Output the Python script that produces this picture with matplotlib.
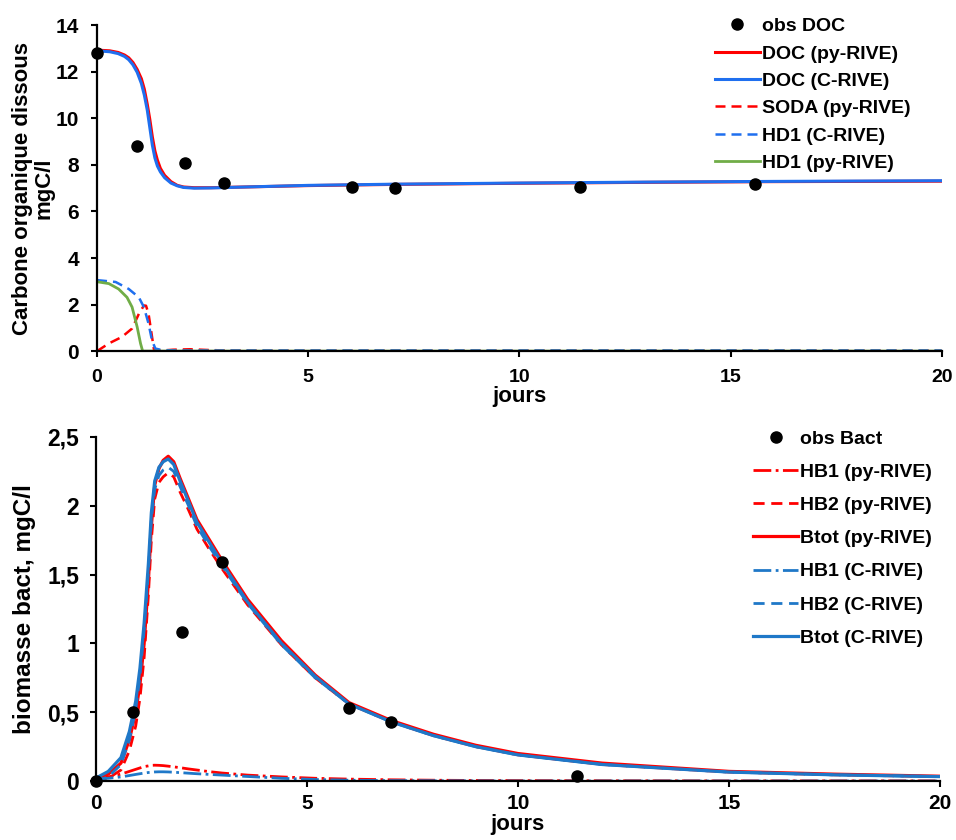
import numpy as np
import matplotlib.pyplot as plt

plt.rcParams['font.family'] = ['Liberation Sans', 'DejaVu Sans']
plt.rcParams['font.weight'] = 'bold'

# --- top panel: dissolved organic carbon ---
obs_doc_t = [0, 0.94, 2.08, 3.0, 6.04, 7.05, 11.43, 15.57]
obs_doc = [12.8, 8.79, 8.09, 7.23, 7.07, 6.99, 7.07, 7.2]

doc_t = [0, 0.3, 0.5, 0.65, 0.75, 0.85, 0.95, 1.05, 1.12, 1.19, 1.25, 1.31, 1.37, 1.43,
         1.5, 1.6, 1.75, 1.9, 2.05, 2.3, 2.7, 3.5, 5, 7, 10, 13, 16, 20]
doc_py = [12.93, 12.9, 12.83, 12.72, 12.6, 12.4, 12.1, 11.7, 11.25, 10.6, 9.95, 9.2, 8.6, 8.2,
          7.85, 7.55, 7.28, 7.12, 7.05, 7.02, 7.02, 7.05, 7.11, 7.16, 7.21, 7.25, 7.28, 7.3]
doc_c = [12.9, 12.86, 12.78, 12.66, 12.52, 12.3, 11.98, 11.5, 11.0, 10.35, 9.6, 8.85, 8.3, 7.95,
         7.7, 7.45, 7.22, 7.1, 7.03, 7.0, 7.01, 7.05, 7.12, 7.17, 7.22, 7.26, 7.29, 7.32]

soda_t = [0, 0.28, 0.59, 0.83, 0.99, 1.11, 1.16, 1.22, 1.30, 1.35, 1.5, 1.8, 2.2, 2.6, 3, 4, 20]
soda_py = [0, 0.33, 0.61, 0.97, 1.6, 1.96, 1.95, 1.6, 0.64, 0.04, 0.02, 0.06, 0.08, 0.05, 0.03, 0.02, 0.02]

hd1c_t = [0, 0.44, 0.75, 0.99, 1.11, 1.22, 1.30, 1.38, 1.5, 1.62, 2, 3, 20]
hd1_c = [3.05, 2.97, 2.67, 2.31, 1.89, 1.18, 0.47, 0.11, 0.06, 0.04, 0.03, 0.03, 0.03]

hd1py_t = [0, 0.28, 0.51, 0.71, 0.83, 0.95, 1.03, 1.08, 20]
hd1_py = [2.98, 2.9, 2.67, 2.31, 1.89, 1.04, 0.33, 0.0, 0.0]

# --- bottom panel: bacterial biomass ---
obs_b_t = [0, 0.88, 2.05, 3.0, 5.99, 7.0, 11.41]
obs_b = [0.0, 0.5, 1.08, 1.59, 0.53, 0.43, 0.04]

b_t = [0, 0.3, 0.6, 0.8, 0.95, 1.05, 1.15, 1.25, 1.32, 1.4, 1.5, 1.6, 1.72, 1.85, 2.0,
       2.2, 2.4, 2.7, 3.0, 3.6, 4.4, 5.2, 6, 7, 8, 9, 10, 12, 15, 17.5, 20]
btot_py = [0.02, 0.05, 0.13, 0.3, 0.5, 0.7, 1.0, 1.45, 1.85, 2.15, 2.27, 2.33, 2.36, 2.32, 2.2,
           2.05, 1.9, 1.75, 1.6, 1.32, 1.02, 0.77, 0.57, 0.44, 0.34, 0.26, 0.2, 0.13, 0.07, 0.05, 0.035]
btot_c = [0.02, 0.07, 0.17, 0.36, 0.58, 0.82, 1.15, 1.58, 1.95, 2.18, 2.28, 2.32, 2.34, 2.3, 2.18,
          2.03, 1.88, 1.73, 1.58, 1.3, 1.0, 0.76, 0.56, 0.43, 0.33, 0.25, 0.19, 0.12, 0.065, 0.045, 0.032]
hb2_py = [0.0, 0.02, 0.08, 0.22, 0.4, 0.6, 0.9, 1.35, 1.75, 2.05, 2.17, 2.21, 2.24, 2.21, 2.1,
          1.97, 1.83, 1.68, 1.54, 1.28, 0.99, 0.75, 0.56, 0.43, 0.33, 0.25, 0.19, 0.12, 0.065, 0.045, 0.032]
hb2_c = [0.0, 0.03, 0.12, 0.3, 0.52, 0.76, 1.1, 1.52, 1.9, 2.12, 2.22, 2.26, 2.28, 2.25, 2.14,
         2.0, 1.85, 1.7, 1.56, 1.29, 0.99, 0.75, 0.56, 0.43, 0.33, 0.25, 0.19, 0.12, 0.065, 0.045, 0.032]
hb1_py = [0.02, 0.03, 0.05, 0.07, 0.085, 0.095, 0.105, 0.11, 0.114, 0.115, 0.114, 0.112, 0.108, 0.103, 0.097,
          0.088, 0.08, 0.068, 0.058, 0.043, 0.03, 0.02, 0.014, 0.009, 0.006, 0.004, 0.003, 0.002, 0.001, 0.001, 0.001]
hb1_c = [0.015, 0.02, 0.03, 0.04, 0.048, 0.053, 0.058, 0.062, 0.064, 0.066, 0.067, 0.067, 0.066, 0.064, 0.061,
         0.057, 0.053, 0.048, 0.043, 0.033, 0.02, 0.011, 0.006, 0.003, 0.002, 0.001, 0, 0, 0, 0, 0]

b_ticks = [0, 0.5, 1, 1.5, 2, 2.5]
b_ticklabels = ['0', '0,5', '1', '1,5', '2', '2,5']

red = '#ff0000'
blue_top = '#1f6fef'
blue_bot = '#1f78c8'
green = '#70ad47'
dash = (4, 2.4)

fig = plt.figure(figsize=(9.56, 8.40), dpi=100)
ax1 = fig.add_axes([0.1015, 0.582, 0.8835, 0.388])
ax2 = fig.add_axes([0.1, 0.0702, 0.8835, 0.4096])


def style(ax, xsize, ysize, xpad, ypad):
    for s in ['top', 'right']:
        ax.spines[s].set_visible(False)
    for s in ['left', 'bottom']:
        ax.spines[s].set_linewidth(1.6)
    ax.tick_params(width=1.5, length=4)
    ax.tick_params(axis='x', labelsize=xsize, pad=xpad)
    ax.tick_params(axis='y', labelsize=ysize, pad=ypad)
    for lab in ax.get_xticklabels() + ax.get_yticklabels():
        lab.set_fontweight('bold')


# top
ax1.plot(obs_doc_t, obs_doc, 'o', color='black', ms=8, label='obs DOC', clip_on=False, zorder=5)
ax1.plot(doc_t, doc_py, '-', color=red, lw=2.2, label='DOC (py-RIVE)')
ax1.plot(doc_t, doc_c, '-', color=blue_top, lw=2.2, label='DOC (C-RIVE)')
ax1.plot(soda_t, soda_py, '--', color=red, lw=1.8, dashes=dash, label='SODA (py-RIVE)')
ax1.plot(hd1c_t, hd1_c, '--', color=blue_top, lw=1.8, dashes=dash, label='HD1 (C-RIVE)')
ax1.plot(hd1py_t, hd1_py, '-', color=green, lw=2, label='HD1 (py-RIVE)')
ax1.set_xlim(0, 20)
ax1.set_ylim(0, 14)
ax1.set_xticks([0, 5, 10, 15, 20])
ax1.set_yticks(range(0, 15, 2))
style(ax1, 14, 15, 9, 9)
ax1.set_xlabel('jours', fontsize=16, fontweight='bold', labelpad=0)
ax1.set_ylabel('Carbone organique dissous\nmgC/l', fontsize=16, fontweight='bold',
               linespacing=1.0, labelpad=1)
ax1.legend(loc='upper left', bbox_to_anchor=(0.748, 0.979), bbox_transform=fig.transFigure,
           frameon=False, fontsize=14, handlelength=2.3, handletextpad=0.1,
           labelspacing=0.5, borderpad=0, borderaxespad=0)

# bottom
ax2.plot(obs_b_t, obs_b, 'o', color='black', ms=8, label='obs Bact', clip_on=False, zorder=5)
ax2.plot(b_t, hb1_py, '-.', color=red, lw=2, label='HB1 (py-RIVE)')
ax2.plot(b_t, hb2_py, '--', color=red, lw=2, dashes=dash, label='HB2 (py-RIVE)')
ax2.plot(b_t, btot_py, '-', color=red, lw=2.3, label='Btot (py-RIVE)')
ax2.plot(b_t, hb1_c, '-.', color=blue_bot, lw=2, label='HB1 (C-RIVE)')
ax2.plot(b_t, hb2_c, '--', color=blue_bot, lw=2, dashes=dash, label='HB2 (C-RIVE)')
ax2.plot(b_t, btot_c, '-', color=blue_bot, lw=2.3, label='Btot (C-RIVE)')
ax2.set_xlim(0, 20)
ax2.set_ylim(0, 2.5)
ax2.set_xticks([0, 5, 10, 15, 20])
ax2.set_yticks(b_ticks)
ax2.set_yticklabels(b_ticklabels)
style(ax2, 15, 16.5, 5, 8)
ax2.set_xlabel('jours', fontsize=16, fontweight='bold', labelpad=1)
ax2.set_ylabel('biomasse bact, mgC/l', fontsize=17.5, fontweight='bold', labelpad=8)
ax2.legend(loc='upper left', bbox_to_anchor=(0.788, 0.488), bbox_transform=fig.transFigure,
           frameon=False, fontsize=14, handlelength=2.3, handletextpad=0.1,
           labelspacing=0.8, borderpad=0, borderaxespad=0)

fig.savefig('out.png', dpi=100)
